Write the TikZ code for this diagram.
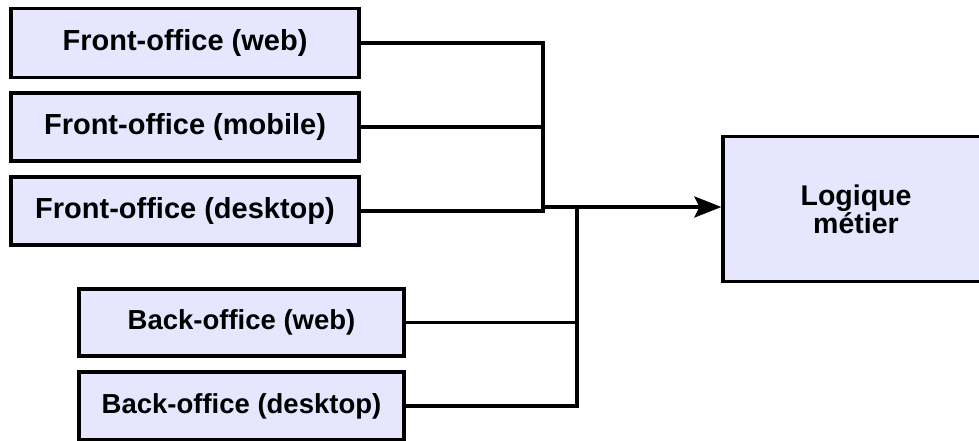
\documentclass[tikz,border=0pt]{standalone}
\usepackage{fontspec}
\setmainfont{Liberation Sans}
\usetikzlibrary{arrows.meta}
\definecolor{boxfill}{HTML}{E6E6FF}
\tikzset{
  box/.style={draw=black, fill=boxfill, line width=3.2pt, rectangle, inner sep=0pt, anchor=center, align=center},
  wire/.style={draw=black, line width=3.3pt, line cap=rect},
  arrowwire/.style={draw=black, line width=3.3pt, -{Stealth[length=27pt, width=21pt, inset=5pt]}}
}
\begin{document}
\begin{tikzpicture}[x=1pt,y=-1pt]
\useasboundingbox (0,0) rectangle (979,441);
\clip (0,0) rectangle (979,441);
\node[box, minimum width=348pt, minimum height=69pt, font=\fontsize{29}{33}\selectfont\bfseries] (f1) at (185,43) {Front-office (web)};
\node[box, minimum width=348pt, minimum height=68pt, font=\fontsize{29}{33}\selectfont\bfseries] (f2) at (185,127) {Front-office (mobile)};
\node[box, minimum width=348pt, minimum height=68pt, font=\fontsize{29}{33}\selectfont\bfseries] (f3) at (185,211) {Front-office (desktop)};
\node[box, minimum width=325pt, minimum height=67pt, font=\fontsize{27.5}{31}\selectfont\bfseries] (b1) at (241.5,322.5) {Back-office (web)};
\node[box, minimum width=325pt, minimum height=68pt, font=\fontsize{27.5}{31}\selectfont\bfseries] (b2) at (241.5,406) {Back-office (desktop)};
\node[box, minimum width=266pt, minimum height=145pt, font=\fontsize{28.5}{28}\selectfont\bfseries] (L) at (856,209) {Logique\\métier};
\coordinate (j1) at (543,211);
\coordinate (j0) at (543,207);
\coordinate (j2) at (577,207);
\draw[wire] (f1.east) -| (j1);
\draw[wire] (f2.east) -- (f2.east -| j1);
\draw[wire] (f3.east) -- (j1);
\draw[wire] (b1.east) -- (b1.east -| j2);
\draw[wire] (b2.east) -| (j2);
\draw[arrowwire] (j0) -- (L.west |- j0);
\end{tikzpicture}
\end{document}
